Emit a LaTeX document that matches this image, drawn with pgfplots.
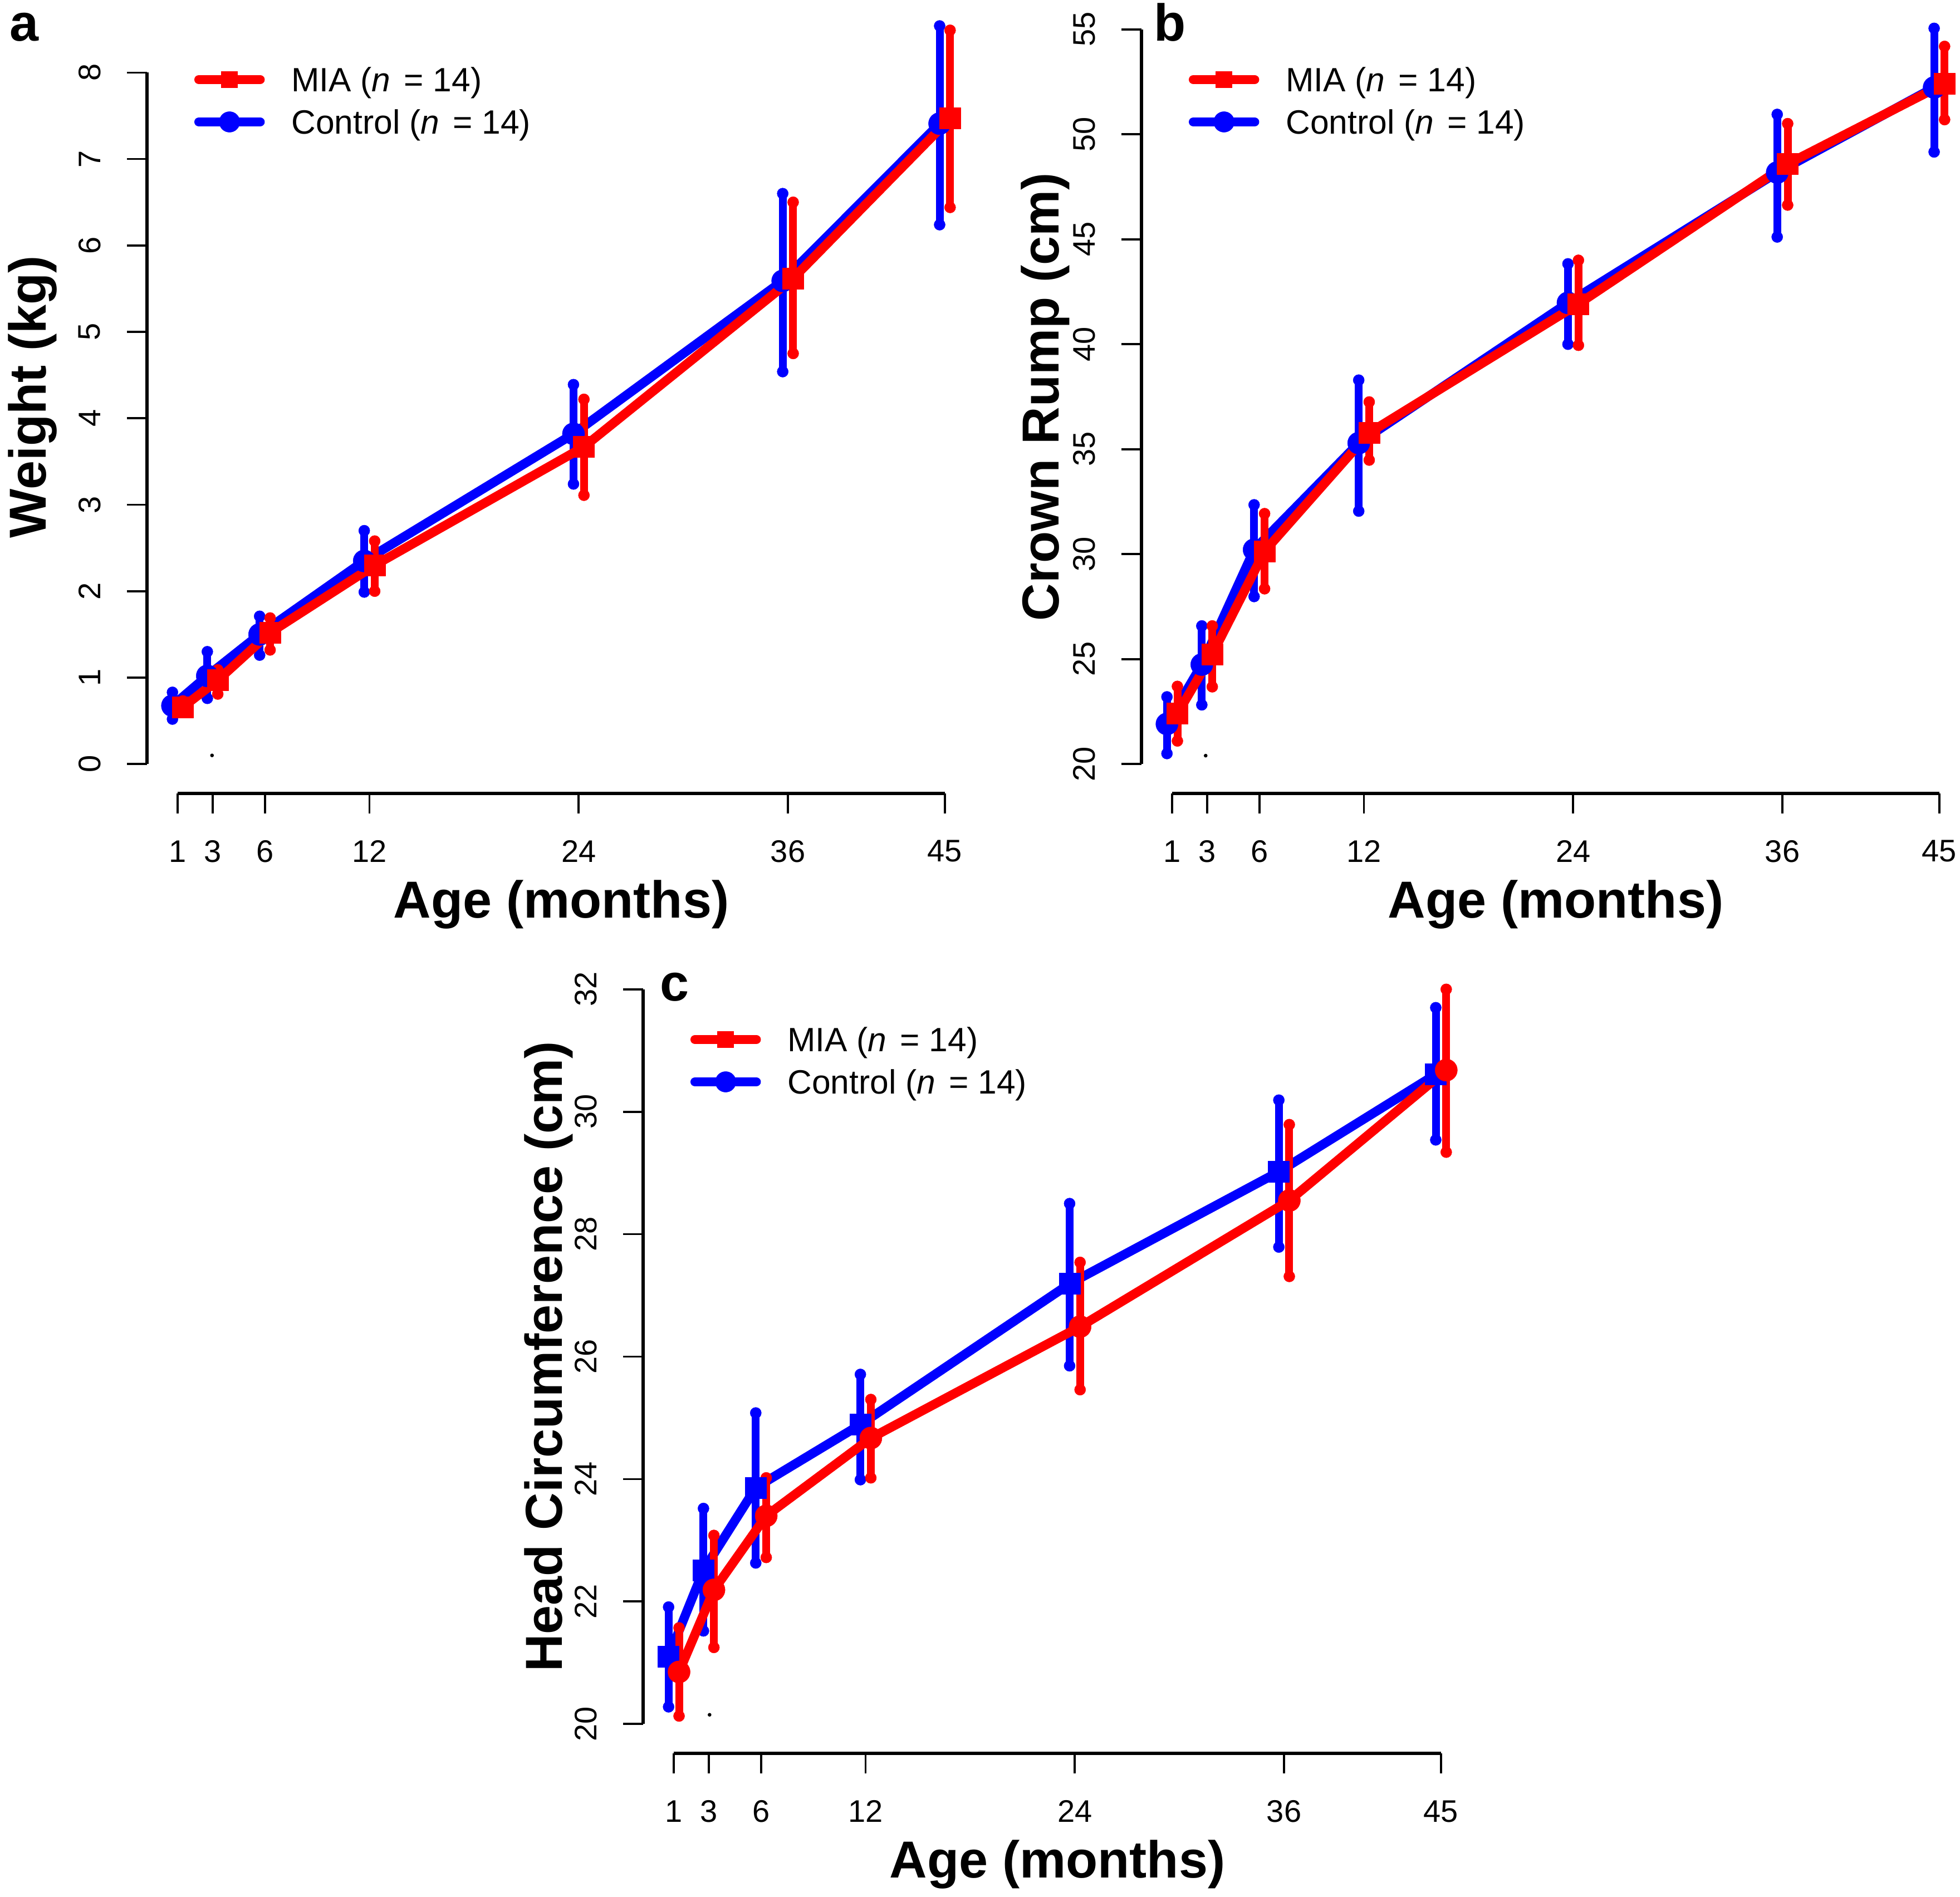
\documentclass[border=0pt]{standalone}
\usepackage{fontspec}
\setmainfont{Liberation Sans}
\usepackage{pgfplots}
\usepackage{pgfplotstable}
\pgfplotsset{compat=1.18}

% panel a: weight
\pgfplotstableread{
x y lo hi
0.7 0.675 0.52 0.83
2.7 1.02 0.76 1.30
5.7 1.50 1.26 1.71
11.7 2.35 1.99 2.70
23.7 3.82 3.24 4.39
35.7 5.59 4.54 6.60
44.7 7.41 6.24 8.54
}\aCtrl
\pgfplotstableread{
x y lo hi
1.3 0.66 0.60 0.73
3.3 0.97 0.81 1.09
6.3 1.52 1.32 1.69
12.3 2.30 2.00 2.58
24.3 3.67 3.11 4.22
36.3 5.62 4.75 6.50
45.3 7.47 6.44 8.49
}\aMIA
% panel b: crown rump
\pgfplotstableread{
x y lo hi
0.7 21.91 20.5 23.2
2.7 24.74 22.82 26.58
5.7 30.21 27.98 32.35
11.7 35.29 32.05 38.29
23.7 41.97 40.0 43.83
35.7 48.18 45.11 50.95
44.7 52.23 49.16 55.05
}\bCtrl
\pgfplotstableread{
x y lo hi
1.3 22.4 21.1 23.7
3.3 25.23 23.68 26.58
6.3 30.14 28.35 31.93
12.3 35.78 34.48 37.25
24.3 41.92 39.95 44.0
36.3 48.59 46.63 50.51
45.3 52.42 50.7 54.19
}\bMIA
% panel c: head circumference
\pgfplotstableread{
x y lo hi
0.7 21.10 20.28 21.91
2.7 22.51 21.52 23.52
5.7 23.86 22.63 25.08
11.7 24.89 23.99 25.71
23.7 27.19 25.85 28.50
35.7 29.02 27.79 30.19
44.7 30.61 29.54 31.70
}\cCtrl
\pgfplotstableread{
x y lo hi
1.3 20.85 20.13 21.57
3.3 22.19 21.25 23.08
6.3 23.40 22.72 24.02
12.3 24.67 24.02 25.30
24.3 26.49 25.46 27.54
36.3 28.55 27.31 29.79
45.3 30.68 29.34 32.0
}\cMIA

\newcommand\tickfont{\fontsize{11.2}{13}\selectfont}
\newcommand\legfont{\fontsize{12.1}{14}\selectfont}
\newcommand\titlefont{\fontsize{18.7}{22}\selectfont\bfseries}
\newcommand\legMIAtext{MIA (\textit{n}\hspace{0.4em}= 14)}
\newcommand\legCtrltext{Control (\textit{n}\hspace{0.4em}= 14)}

\pgfplotsset{
  panel/.style={
    scale only axis, width=297.6pt, height=285pt,
    xmin=-0.76, xmax=46.76,
    anchor=south west,
    clip=false,
    axis x line*=bottom, axis y line*=left,
    axis line style={draw=none},
    tick align=outside, major tick length=7.2pt,
    major tick style={black, line width=0.75pt},
    xtick={1,3,6,12,24,36,45},
    /pgf/number format/assume math mode=true,
    ticklabel style={font=\tickfont, inner sep=0pt},
    xticklabel style={anchor=center},
    yticklabel style={rotate=90, anchor=center},
    xticklabel shift=13.6pt, yticklabel shift=13.4pt,
    xlabel={Age (months)},
    xlabel style={font=\titlefont, at={(axis description cs:0.5,-0.15649)}, anchor=base},
    legend style={draw=none, fill=none, inner sep=0pt, outer sep=0pt,
      at={(axis description cs:0.0571,0.91491)}, anchor=north west,
      font=\legfont, row sep=6.5pt, column sep=9.6pt,
      nodes={inner sep=0pt, text height=8.7pt, text depth=0pt}},
    legend cell align=left,
    legend image code/.code={
      \draw[#1, mark=none] (0pt,0pt) -- (22pt,0pt);
      \path[#1] plot coordinates {(11pt,0pt)};
    },
  },
  ser/.style={line width=3.3pt, line join=round, line cap=round,
    mark options={solid, line width=0.1pt},
    error bars/y dir=both, error bars/y explicit,
    error bars/error mark=*,
    error bars/error bar style={line width=2.8pt, solid},
    error bars/error mark options={mark size=2pt, line width=0.1pt}},
  table/ebt/.style={x=x, y=y, y error plus expr=\thisrow{hi}-\thisrow{y},
    y error minus expr=\thisrow{y}-\thisrow{lo}},
  legMIA/.style={red, line width=3.3pt, line cap=round, mark=square*, mark size=2.9pt, mark options={solid, line width=0.1pt}},
  legCtrl/.style={blue, line width=3.3pt, line cap=round, mark=*, mark size=3.7pt, mark options={solid, line width=0.1pt}},
}

\begin{document}
\begin{tikzpicture}
\useasboundingbox (0,0) rectangle (704pt,681.2pt);

% ---------- panel a ----------
\begin{axis}[panel, at={(52.8pt,396.2pt)},
  ymin=-0.34, ymax=8.84, ytick={0,1,...,8},
  ylabel={Weight (kg)},
  ylabel style={font=\titlefont, at={(axis description cs:-0.1223,0.5)}, anchor=base}]
\addplot[ser, blue, mark=*, mark size=4pt, forget plot] table[ebt] {\aCtrl};
\addplot[ser, red, mark=square*, mark size=3.8pt, forget plot] table[ebt] {\aMIA};
\addplot[only marks, mark=*, mark size=0.45pt, black, forget plot] coordinates {(2.97,0.1)};
\draw[line width=1.1pt] (axis cs:1,-0.34) -- (axis cs:45,-0.34);
\draw[line width=1.1pt] (axis cs:-0.76,0) -- (axis cs:-0.76,8);
\addlegendimage{legMIA}
\addlegendentry{\legMIAtext}
\addlegendimage{legCtrl}
\addlegendentry{\legCtrltext}
\node[font=\titlefont, anchor=base] at (axis description cs:-0.1485,0.94807) {a};
\end{axis}

% ---------- panel b ----------
\begin{axis}[panel, at={(410pt,396.2pt)},
  ymin=18.6, ymax=56.4, ytick={20,25,...,55},
  ylabel={Crown Rump (cm)},
  ylabel style={font=\titlefont, at={(axis description cs:-0.0995,0.5)}, anchor=base}]
\addplot[ser, blue, mark=*, mark size=4pt, forget plot] table[ebt] {\bCtrl};
\addplot[ser, red, mark=square*, mark size=3.8pt, forget plot] table[ebt] {\bMIA};
\addplot[only marks, mark=*, mark size=0.45pt, black, forget plot] coordinates {(2.92,20.4)};
\draw[line width=1.1pt] (axis cs:1,18.6) -- (axis cs:45,18.6);
\draw[line width=1.1pt] (axis cs:-0.76,20) -- (axis cs:-0.76,55);
\addlegendimage{legMIA}
\addlegendentry{\legMIAtext}
\addlegendimage{legCtrl}
\addlegendentry{\legCtrltext}
\node[font=\titlefont, anchor=base] at (axis description cs:0.03427,0.94807) {b};
\end{axis}

% ---------- panel c ----------
\begin{axis}[panel, at={(231pt,51.4pt)},
  ymin=19.52, ymax=32.48, ytick={20,22,...,32},
  ylabel={Head Circumference (cm)},
  ylabel style={font=\titlefont, at={(axis description cs:-0.0981,0.5)}, anchor=base}]
\addplot[ser, blue, mark=square*, mark size=3.8pt, forget plot] table[ebt] {\cCtrl};
\addplot[ser, red, mark=*, mark size=4pt, forget plot] table[ebt] {\cMIA};
\addplot[only marks, mark=*, mark size=0.45pt, black, forget plot] coordinates {(3.05,20.15)};
\draw[line width=1.1pt] (axis cs:1,19.52) -- (axis cs:45,19.52);
\draw[line width=1.1pt] (axis cs:-0.76,20) -- (axis cs:-0.76,32);
\addlegendimage{legMIA}
\addlegendentry{\legMIAtext}
\addlegendimage{legCtrl}
\addlegendentry{\legCtrltext}
\node[font=\titlefont, anchor=base] at (axis description cs:0.03763,0.94877) {c};
\end{axis}
\end{tikzpicture}
\end{document}
